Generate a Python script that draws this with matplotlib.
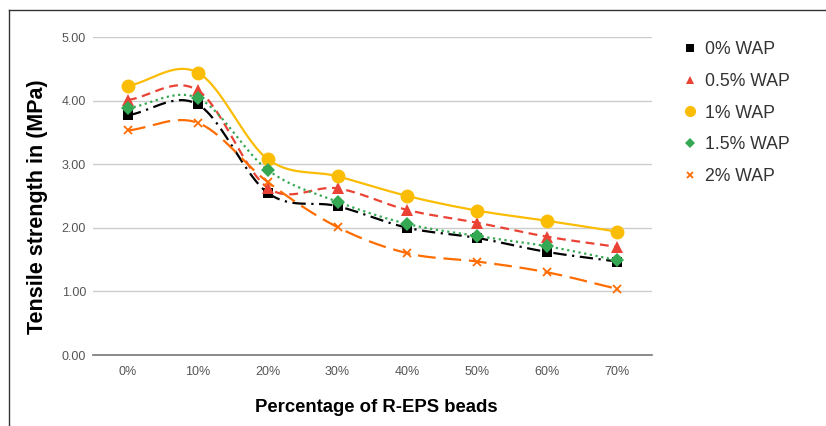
import numpy as np
import matplotlib
matplotlib.use("Agg")
import matplotlib.pyplot as plt
from matplotlib.lines import Line2D

# data
categories = ["0%", "10%", "20%", "30%", "40%", "50%", "60%", "70%"]
wap_0 = [3.77, 3.94, 2.55, 2.34, 2.00, 1.84, 1.62, 1.47]
wap_05 = [4.01, 4.16, 2.63, 2.62, 2.28, 2.08, 1.86, 1.70]
wap_1 = [4.23, 4.44, 3.08, 2.81, 2.50, 2.27, 2.11, 1.94]
wap_15 = [3.88, 4.04, 2.91, 2.41, 2.06, 1.87, 1.71, 1.49]
wap_2 = [3.53, 3.65, 2.72, 2.01, 1.60, 1.47, 1.30, 1.04]

series = [
    ("0% WAP", wap_0, "#000000", "s", 7, (0, (6, 2.5, 1, 2.5))),
    ("0.5% WAP", wap_05, "#ea4335", "^", 8, (0, (4, 2.5))),
    ("1% WAP", wap_1, "#fbbc04", "o", 10, "-"),
    ("1.5% WAP", wap_15, "#34a853", "D", 7, (0, (1, 1.6))),
    ("2% WAP", wap_2, "#ff6d01", "x", 6, (0, (8, 3.5))),
]


def smooth(y, steps=30):
    """Cubic Hermite (Catmull-Rom) curve through the points, for the line only."""
    y = np.asarray(y, dtype=float)
    n = len(y)
    m = np.empty(n)
    m[1:-1] = (y[2:] - y[:-2]) / 2
    m[0] = y[1] - y[0]
    m[-1] = y[-1] - y[-2]
    xs, ys = [], []
    t = np.linspace(0, 1, steps, endpoint=False)
    for i in range(n - 1):
        h00 = 2 * t**3 - 3 * t**2 + 1
        h10 = t**3 - 2 * t**2 + t
        h01 = -2 * t**3 + 3 * t**2
        h11 = t**3 - t**2
        xs.append(i + t)
        ys.append(h00 * y[i] + h10 * m[i] + h01 * y[i + 1] + h11 * m[i + 1])
    xs.append([n - 1])
    ys.append([y[-1]])
    return np.concatenate(xs), np.concatenate(ys)


plt.rcParams["font.family"] = ["Liberation Sans", "DejaVu Sans"]

fig = plt.figure(figsize=(8.26, 4.26), dpi=100)
ax = fig.add_axes([93 / 826, 1 - 355 / 426, (652 - 93) / 826, (355 - 37) / 426])

x = np.arange(len(categories))
handles = []
for label, vals, color, marker, ms, ls in series:
    sx, sy = smooth(vals)
    ax.plot(sx, sy, color=color, lw=1.6, linestyle=ls, zorder=2)
    mew = 1.3 if marker == "x" else 0
    ax.plot(x, vals, linestyle="none", marker=marker, ms=ms, color=color,
            mec=color, mew=mew, zorder=3)
    handles.append(Line2D([], [], linestyle="none", marker=marker,
                          ms=ms * 0.8, color=color, mec=color, mew=mew,
                          label=label))

ax.set_xlim(-0.5, len(categories) - 0.5)
ax.set_ylim(0, 5)
ax.set_yticks([0, 1, 2, 3, 4, 5])
ax.set_yticklabels([f"{v:.2f}" for v in [0, 1, 2, 3, 4, 5]])
ax.set_xticks(x)
ax.set_xticklabels(categories)
for lab in ax.get_xticklabels() + ax.get_yticklabels():
    lab.set_fontsize(9)
    lab.set_color("#555555")

ax.grid(axis="y", color="#cccccc", lw=1)
ax.set_axisbelow(True)
for side in ["top", "right", "left"]:
    ax.spines[side].set_visible(False)
ax.spines["bottom"].set_color("#777777")
ax.spines["bottom"].set_linewidth(1.2)
ax.tick_params(axis="both", length=0)
ax.tick_params(axis="y", pad=5)
ax.tick_params(axis="x", pad=8)

fig.text(38 / 826, 1 - 207 / 426, "Tensile strength in (MPa)", rotation=90,
         ha="center", va="center", fontsize=15.5, fontweight="bold")
fig.text(376 / 826, 1 - 407 / 426, "Percentage of R-EPS beads",
         ha="center", va="center", fontsize=13.3, fontweight="bold")

fig.legend(handles=handles, loc="upper left", bbox_to_anchor=(665 / 826, 1 - 25 / 426),
           frameon=False, fontsize=12.7, labelspacing=0.84, handlelength=1.0,
           handletextpad=0.35, labelcolor="#333333")

# border lines of the original image crop
fig.add_artist(Line2D([9 / 826, 1], [1 - 10 / 426, 1 - 10 / 426], color="#333333", lw=1))
fig.add_artist(Line2D([9 / 826, 9 / 826], [0, 1 - 10 / 426], color="#333333", lw=1))

fig.savefig("out.png", dpi=100)
